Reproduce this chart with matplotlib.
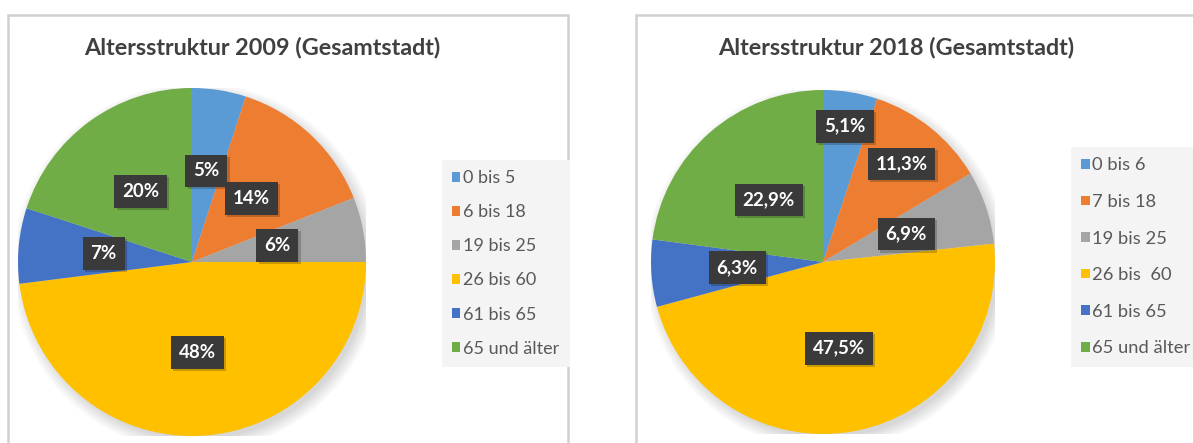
import numpy as np
import matplotlib.pyplot as plt
import matplotlib.patheffects as pe
from matplotlib.patches import Rectangle, Circle, Patch

plt.rcParams['font.family'] = ['Lato', 'DejaVu Sans']

W, H = 1193, 443

colors = ['#5B9BD5', '#ED7D31', '#A5A5A5', '#FFC000', '#4472C4', '#70AD47']

# 2009
labels_2009 = ['0 bis 5', '6 bis 18', '19 bis 25', '26 bis 60', '61 bis 65', '65 und älter']
values_2009 = [5, 14, 6, 48, 7, 20]
text_2009 = ['5%', '14%', '6%', '48%', '7%', '20%']
labdist_2009 = [0.53, 0.5, 0.5, 0.52, 0.51, 0.5]

# 2018
labels_2018 = ['0 bis 6', '7 bis 18', '19 bis 25', '26 bis  60', '61 bis 65', '65 und älter']
values_2018 = [5.1, 11.3, 6.9, 47.5, 6.3, 22.9]
text_2018 = ['5,1%', '11,3%', '6,9%', '47,5%', '6,3%', '22,9%']
labdist_2018 = [0.8, 0.73, 0.51, 0.51, 0.5, 0.48]

fig = plt.figure(figsize=(W / 100, H / 100), dpi=100)
fig.patch.set_facecolor('white')


def px_axes(cx, cy, r):
    return fig.add_axes([(cx - r) / W, (H - cy - r) / H, 2 * r / W, 2 * r / H])


def draw_panel(x0, x1, title, tx, cx, cy, r, values, labels, texts, dists,
               leg_x, leg_y, leg_fs, leg_sp):
    # panel frame
    fig.add_artist(Rectangle((x0 / W, -0.1), (x1 - x0) / W, (H - 15) / H + 0.1,
                             transform=fig.transFigure, fill=False,
                             edgecolor='#d0d0d0', linewidth=1.8))
    fig.text(tx / W, 1 - 48 / H, title, ha='center', va='center',
             fontsize=16.8, fontweight='bold', color='#404040')

    ax = px_axes(cx, cy, r)
    ax.axis('off')
    # soft shadow
    for k in range(8):
        ax.add_patch(Circle((0.025, -0.03), 0.99 + 0.01 * k, color='black',
                            alpha=0.018, lw=0, zorder=0))
    wedges, _ = ax.pie(values, colors=colors, startangle=90, counterclock=False,
                       radius=1.0, wedgeprops=dict(linewidth=0))
    ax.set_xlim(-1, 1)
    ax.set_ylim(-1, 1)
    ax.set_aspect('equal')
    for w, t, d in zip(wedges, texts, dists):
        ang = np.deg2rad((w.theta1 + w.theta2) / 2)
        txt = ax.text(d * np.cos(ang), d * np.sin(ang), t, ha='center', va='center',
                      fontsize=13.5, fontweight='bold', color='white', zorder=5,
                      bbox=dict(boxstyle='square,pad=0.42', facecolor='#3a3a3a',
                                edgecolor='none'))
        txt.get_bbox_patch().set_path_effects(
            [pe.withSimplePatchShadow(offset=(1.5, -1.5), shadow_rgbFace='black', alpha=0.2)])

    handles = [Patch(facecolor=c, edgecolor='none') for c in colors]
    fig.legend(handles, labels, loc='upper left',
               bbox_to_anchor=(leg_x / W, 1 - leg_y / H),
               frameon=True, facecolor='#f4f4f4', edgecolor='none', framealpha=1,
               fontsize=leg_fs, labelcolor='#595959', handlelength=0.45,
               handleheight=0.45, handletextpad=0.15, labelspacing=leg_sp,
               borderpad=0.57, fancybox=False, borderaxespad=0)


draw_panel(8, 568, 'Altersstruktur 2009 (Gesamtstadt)', 262, 192, 262, 174,
           values_2009, labels_2009, text_2009, labdist_2009, 442, 160, 13, 1.0)
draw_panel(636, 1260, 'Altersstruktur 2018 (Gesamtstadt)', 896, 823, 262, 172,
           values_2018, labels_2018, text_2018, labdist_2018, 1071, 147, 13.2, 1.12)

fig.savefig('out.png', dpi=100)
